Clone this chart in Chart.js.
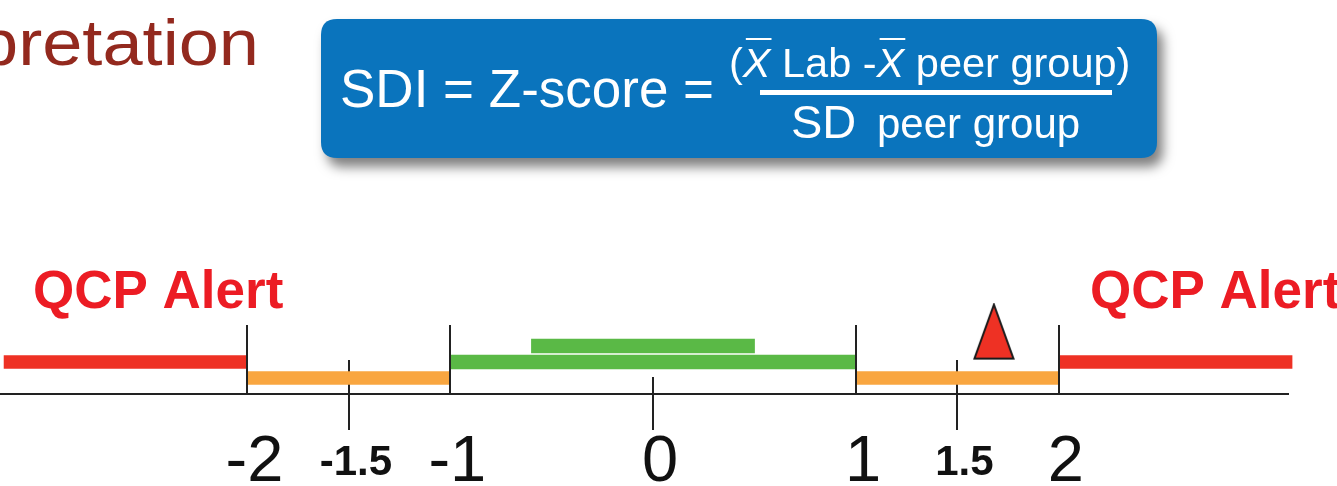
<!DOCTYPE html>
<html>
<head>
<meta charset="utf-8">
<script src="https://cdn.jsdelivr.net/npm/chart.js@4.4.1/dist/chart.umd.min.js"></script>
<style>
  html, body { margin: 0; padding: 0; background: #fff; overflow: hidden; }
  #wrap { width: 1337px; height: 486px; position: relative; }
</style>
</head>
<body>
<div id="wrap"><canvas id="sdiCanvas"></canvas></div>
<script>
// SDI number line
const tickValues = [-2, -1.5, -1, 0, 1, 1.5, 2];
const tickLabels = ['-2', '-1.5', '-1', '0', '1', '1.5', '2'];
const majorTicks = [-2, -1, 1, 2];
const minorTicks = [-1.5, 0, 1.5];

const alertLow = [-3.2, -2];
const alertHigh = [2, 3.15];
const warnLow = [-2, -1];
const warnHigh = [1, 2];
const acceptable = [-1, 1];
const peerRange = [-0.6, 0.5];
const labSDI = 1.68;

const FONT = "'Liberation Sans', Arial, sans-serif";
Chart.defaults.font.family = FONT;

// tall red marker drawn as a point image
const marker = document.createElement('canvas');
marker.width = 42;
marker.height = 58;
(function() {
  const m = marker.getContext('2d');
  m.beginPath();
  m.moveTo(21, 2);
  m.lineTo(40.5, 56);
  m.lineTo(1.5, 56);
  m.closePath();
  m.fillStyle = '#ee3124';
  m.fill();
  m.lineWidth = 2;
  m.strokeStyle = '#1a1a1a';
  m.stroke();
})();

function boxPath(ctx, x, y, w, h, r) {
  ctx.beginPath();
  ctx.moveTo(x + r, y);
  ctx.lineTo(x + w - r, y);
  ctx.quadraticCurveTo(x + w, y, x + w, y + r);
  ctx.lineTo(x + w, y + h - r);
  ctx.quadraticCurveTo(x + w, y + h, x + w - r, y + h);
  ctx.lineTo(x + r, y + h);
  ctx.quadraticCurveTo(x, y + h, x, y + h - r);
  ctx.lineTo(x, y + r);
  ctx.quadraticCurveTo(x, y, x + r, y);
  ctx.closePath();
}

// slide title, formula box and alert captions
const slideText = {
  id: 'slideText',
  beforeDraw(chart) {
    const ctx = chart.ctx;
    ctx.save();
    ctx.textBaseline = 'alphabetic';

    ctx.save();
    ctx.fillStyle = '#93291e';
    ctx.font = '64px ' + FONT;
    ctx.textAlign = 'right';
    const sx = 281 / ctx.measureText('pretation').width;
    ctx.translate(259, 65);
    ctx.scale(sx, 1);
    ctx.fillText('Interpretation', 0, 0);
    ctx.restore();

    ctx.save();
    ctx.shadowColor = 'rgba(0,0,0,0.5)';
    ctx.shadowBlur = 12;
    ctx.shadowOffsetX = 6;
    ctx.shadowOffsetY = 9;
    boxPath(ctx, 321, 19, 836, 139, 16);
    ctx.fillStyle = '#0a74bd';
    ctx.fill();
    ctx.restore();

    ctx.fillStyle = '#fff';
    ctx.textAlign = 'left';
    ctx.font = '53px ' + FONT;
    ctx.fillText('SDI = Z-score =', 340, 107);

    // numerator
    let x = 729;
    const parts = [['(', false], ['X', true], [' Lab -', false], ['X', true], [' peer group)', false]];
    parts.forEach(([t, bar]) => {
      ctx.font = (bar ? 'italic ' : '') + '41.5px ' + FONT;
      const w = ctx.measureText(t).width;
      ctx.fillText(t, x, 77);
      if (bar) {
        ctx.fillRect(x + 3, 38, w - 2, 2);
      }
      x += w;
    });
    ctx.fillRect(760, 90, 352, 5);

    ctx.font = '47px ' + FONT;
    ctx.fillText('SD', 791, 138);
    ctx.font = '42px ' + FONT;
    ctx.fillText('peer group', 877, 138);

    ctx.fillStyle = '#ec1c24';
    ctx.font = 'bold 53px ' + FONT;
    ctx.fillText('QCP Alert', 33, 308);
    ctx.fillText('QCP Alert', 1090, 308);
    ctx.restore();
  }
};

// tick marks on the number line
function drawTicks(chart, values, up, down) {
  const ctx = chart.ctx;
  const xs = chart.scales.x;
  const bottom = chart.chartArea.bottom;
  ctx.save();
  ctx.strokeStyle = '#222';
  ctx.lineWidth = 2;
  values.forEach(v => {
    const px = Math.round(xs.getPixelForValue(v));
    const len = v === 0 ? up / 2 : up;
    ctx.beginPath();
    ctx.moveTo(px, bottom - len);
    ctx.lineTo(px, bottom + down);
    ctx.stroke();
  });
  ctx.restore();
}

const tickMarks = {
  id: 'tickMarks',
  beforeDatasetsDraw(chart) {
    drawTicks(chart, minorTicks, 34, 36);
  },
  afterDatasetsDraw(chart) {
    drawTicks(chart, majorTicks, 69, 1);
  }
};

const barStyle = {
  type: 'bar',
  indexAxis: 'y',
  grouped: false,
  borderWidth: 0,
  clip: false
};

function tickFont(c) {
  const small = c.tick && Math.abs(c.tick.value) === 1.5;
  return small
    ? { family: FONT, size: 42, weight: 'bold', lineHeight: '60px' }
    : { family: FONT, size: 65, weight: 'normal', lineHeight: '60px' };
}

new Chart(document.getElementById('sdiCanvas'), {
  type: 'bar',
  data: {
    datasets: [
      {
        type: 'scatter',
        label: 'Lab SDI',
        data: [{ x: labSDI, y: 3.9 }],
        pointStyle: marker,
        pointRadius: 20,
        clip: false
      },
      Object.assign({}, barStyle, {
        label: 'Peer range',
        data: [{ x: peerRange, y: 3 }],
        backgroundColor: '#5ab946',
        barThickness: 14
      }),
      Object.assign({}, barStyle, {
        label: 'Acceptable',
        data: [{ x: acceptable, y: 2 }],
        backgroundColor: '#5ab946',
        barThickness: 14
      }),
      Object.assign({}, barStyle, {
        label: 'QCP Alert',
        data: [{ x: alertLow, y: 2 }, { x: alertHigh, y: 2 }],
        backgroundColor: '#ee3124',
        barThickness: 13
      }),
      Object.assign({}, barStyle, {
        label: 'Warning',
        data: [{ x: warnLow, y: 1 }, { x: warnHigh, y: 1 }],
        backgroundColor: '#f9a640',
        barThickness: 13
      })
    ]
  },
  options: {
    responsive: true,
    maintainAspectRatio: false,
    animation: false,
    layout: {
      autoPadding: false,
      padding: { top: 298, left: 0, right: 49, bottom: 0 }
    },
    plugins: {
      legend: { display: false },
      tooltip: { enabled: false }
    },
    scales: {
      x: {
        type: 'linear',
        position: 'bottom',
        min: -3.22,
        max: 3.13,
        offset: false,
        grid: { display: false },
        border: { display: true, color: '#222', width: 2 },
        afterBuildTicks: scale => {
          scale.ticks = tickValues.map(v => ({ value: v }));
        },
        afterFit: scale => {
          scale.height = 92;
          scale.paddingLeft = 0;
          scale.paddingRight = 0;
        },
        ticks: {
          autoSkip: false,
          maxRotation: 0,
          minRotation: 0,
          padding: 31,
          labelOffset: 7,
          color: '#111',
          callback: (value, index) => tickLabels[index],
          font: tickFont
        }
      },
      y: {
        type: 'linear',
        display: false,
        min: 0,
        max: 6,
        offset: false
      }
    }
  },
  plugins: [slideText, tickMarks]
});
</script>
</body>
</html>
